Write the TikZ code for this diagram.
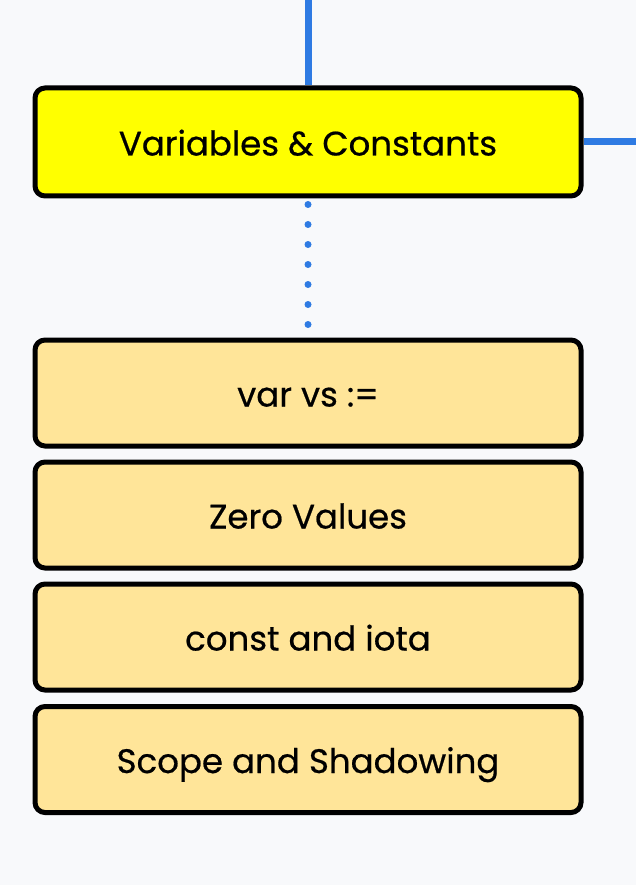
\documentclass[tikz,border=0pt]{standalone}
\usepackage{fontspec}
\setmainfont{Poppins}[FakeBold=0.6]
\usepackage{tikz, xcolor}
\usetikzlibrary{shapes,arrows,backgrounds}
\definecolor{bgcol}{HTML}{F8F9FB}
\definecolor{linkblue}{HTML}{2F7BE3}
\definecolor{topicyel}{HTML}{FFFF00}
\definecolor{subyel}{HTML}{FFE599}

\begin{document}
\begin{tikzpicture}[x=1pt, y=1pt]
\tikzstyle{vertext}=[rectangle, rounded corners=10pt, draw=black, line width=5pt, fill=topicyel, minimum width=546pt, minimum height=108pt, inner sep=0pt, text height=27pt, text depth=0pt, font=\fontsize{34}{38}\selectfont]
\tikzstyle{vertexs}=[vertext, fill=subyel, minimum height=106pt]
\tikzstyle{linkstyle}=[linkblue, line width=7pt]
\tikzstyle{dotstyle}=[linkstyle, line cap=round, dash pattern=on 0pt off 20pt, dash phase=14pt]

\useasboundingbox (0,0) rectangle (636,-885);

\node[vertext] (T0x0) at (308,-142) {Variables \& Constants};
\node[vertexs] (T0x1) at (308,-393) {var vs :=};
\node[vertexs] (T0x2) at (308,-515) {Zero Values};
\node[vertexs] (T0x3) at (308,-637) {const and iota};
\node[vertexs] (T0x4) at (308,-759.5) {Scope and Shadowing};
\coordinate (Ctop) at (308,0);
\coordinate (Cright) at (636,-142);

\begin{scope}[on background layer]
\fill[bgcol] (0,0) rectangle (636,-885);
\draw[linkstyle] (Ctop) -- (T0x0.north);
\draw[linkstyle] (T0x0.east) -- (Cright);
\draw[dotstyle] (T0x0.south) -- (T0x1.north);
\end{scope}
\end{tikzpicture}
\end{document}
